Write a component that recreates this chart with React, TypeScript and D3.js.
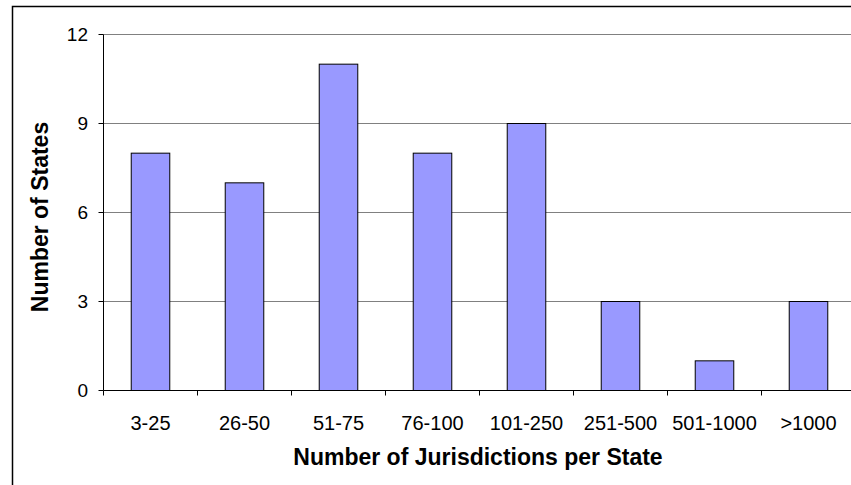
import React from "react";
import * as d3 from "d3";

const categories = ["3-25", "26-50", "51-75", "76-100", "101-250", "251-500", "501-1000", ">1000"];
const values = [8, 7, 11, 8, 9, 3, 1, 3];
const yTicks = [0, 3, 6, 9, 12];

export default function App() {
  const W = 851, H = 485;
  const left = 103.5, right = 855.5, top = 34.5, bottom = 390.5;
  const x = d3.scaleBand<string>().domain(categories).range([left, right]).paddingInner(0.59).paddingOuter(0.295);
  const xb = d3.scaleBand<string>().domain(categories).range([left, right]);
  const y = d3.scaleLinear().domain([0, 12]).range([bottom, top]);
  const font = "Liberation Sans, Arial, sans-serif";
  return (
    <svg width={W} height={H} style={{ position: "absolute", left: 0, top: 0 }}>
      <rect x={0} y={0} width={W} height={H} fill="#fff" />
      <rect x={12.5} y={6.5} width={W + 10} height={H + 10} fill="none" stroke="#000" strokeWidth={1.5} />
      {yTicks.filter(t => t > 0).map(t => (
        <line key={t} x1={left} x2={W} y1={y(t)} y2={y(t)} stroke="#808080" strokeWidth={1.2} />
      ))}
      {categories.map((c, i) => (
        <rect key={c} x={x(c)} y={y(values[i])} width={x.bandwidth()} height={bottom - y(values[i])}
          fill="#9999FF" stroke="#000" strokeWidth={1} />
      ))}
      <line x1={left} x2={left} y1={top} y2={bottom} stroke="#000" strokeWidth={1} />
      <line x1={left} x2={W} y1={bottom} y2={bottom} stroke="#000" strokeWidth={1} />
      {yTicks.map(t => (
        <g key={t}>
          <line x1={left - 5} x2={left} y1={y(t)} y2={y(t)} stroke="#000" />
          <text x={88} y={y(t)} dy="0.35em" textAnchor="end" fontFamily={font} fontSize={19}>{t}</text>
        </g>
      ))}
      {categories.map((c, i) => (
        <line key={"t" + c} x1={xb(c)!} x2={xb(c)!} y1={bottom} y2={bottom + 5} stroke="#000" />
      ))}
      {categories.map(c => (
        <text key={"l" + c} x={x(c)! + x.bandwidth() / 2} y={430} textAnchor="middle" fontFamily={font} fontSize={20}>{c}</text>
      ))}
      <text x={478} y={465} textAnchor="middle" fontFamily={font} fontSize={23} fontWeight="bold">Number of Jurisdictions per State</text>
      <text transform={`translate(48,217) rotate(-90)`} textAnchor="middle" fontFamily={font} fontSize={23} fontWeight="bold">Number of States</text>
    </svg>
  );
}
